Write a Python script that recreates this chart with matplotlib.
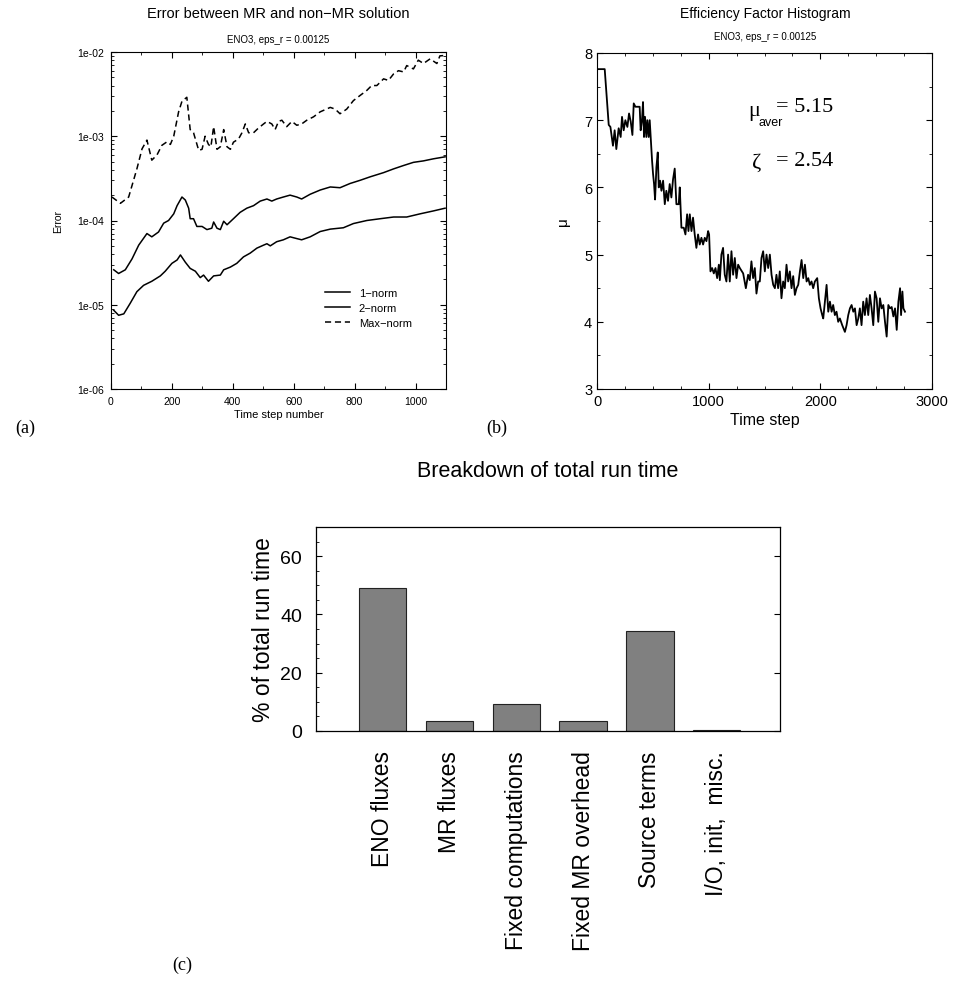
import numpy as np
import matplotlib
matplotlib.use("Agg")
import matplotlib.pyplot as plt
from matplotlib.ticker import MultipleLocator, FuncFormatter, LogLocator

plt.rcParams['font.family'] = ['Liberation Sans', 'DejaVu Sans']

# ---- panel (a): error norms vs time step ----
t_max = [3, 31, 58, 85, 102, 118, 134, 151, 167, 184, 195, 206, 222, 233, 249, 260, 271, 288,
         299, 309, 320, 328, 337, 348, 359, 370, 381, 392, 402, 419, 430, 441, 452, 468, 484,
         501, 512, 528, 539, 550, 561, 577, 594, 610, 626, 643, 665, 687, 720, 736, 752, 774,
         796, 818, 840, 856, 873, 895, 911, 928, 944, 961, 971, 993, 1009, 1026, 1048, 1070,
         1080, 1097]
e_max = [1.9e-4, 1.6e-4, 1.9e-4, 4.1e-4, 7.1e-4, 9.0e-4, 5.2e-4, 6.0e-4, 7.8e-4, 8.6e-4, 8.0e-4,
         1.0e-3, 1.95e-3, 2.6e-3, 2.9e-3, 1.2e-3, 1.1e-3, 6.8e-4, 7.0e-4, 1.0e-3, 8.0e-4, 7.5e-4,
         1.3e-3, 7.0e-4, 7.5e-4, 1.2e-3, 7.5e-4, 7.0e-4, 8.5e-4, 9.3e-4, 1.1e-3, 1.4e-3, 1.1e-3,
         1.1e-3, 1.25e-3, 1.4e-3, 1.5e-3, 1.4e-3, 1.2e-3, 1.5e-3, 1.55e-3, 1.3e-3, 1.5e-3,
         1.35e-3, 1.4e-3, 1.55e-3, 1.7e-3, 1.95e-3, 2.2e-3, 2.1e-3, 1.85e-3, 2.1e-3, 2.65e-3,
         3.05e-3, 3.5e-3, 4.0e-3, 4.0e-3, 4.8e-3, 4.6e-3, 5.5e-3, 6.0e-3, 5.8e-3, 6.9e-3, 6.3e-3,
         8.0e-3, 7.3e-3, 8.3e-3, 7.3e-3, 9.0e-3, 9.1e-3]

t_2 = [9, 25, 47, 69, 91, 118, 134, 156, 173, 189, 206, 217, 233, 244, 255, 260, 271, 282, 299,
       315, 331, 337, 348, 359, 370, 381, 402, 424, 446, 468, 490, 512, 528, 544, 566, 588, 610,
       626, 654, 687, 720, 752, 785, 818, 851, 895, 928, 961, 993, 1026, 1059, 1097]
e_2 = [2.6e-5, 2.35e-5, 2.6e-5, 3.5e-5, 5.1e-5, 7.0e-5, 6.4e-5, 7.3e-5, 9.3e-5, 1.0e-4, 1.2e-4,
       1.5e-4, 1.9e-4, 1.75e-4, 1.4e-4, 1.05e-4, 1.05e-4, 8.5e-5, 8.5e-5, 7.8e-5, 8.1e-5, 9.6e-5,
       8.1e-5, 7.8e-5, 9.8e-5, 8.9e-5, 1.05e-4, 1.25e-4, 1.4e-4, 1.5e-4, 1.7e-4, 1.8e-4, 1.7e-4,
       1.8e-4, 1.9e-4, 2.0e-4, 1.9e-4, 1.8e-4, 2.05e-4, 2.3e-4, 2.5e-4, 2.45e-4, 2.75e-4, 3.0e-4,
       3.3e-4, 3.7e-4, 4.1e-4, 4.5e-4, 4.9e-4, 5.1e-4, 5.4e-4, 5.7e-4]

t_1 = [9, 25, 42, 63, 85, 107, 134, 162, 178, 200, 217, 228, 244, 260, 277, 293, 304, 320, 337,
       359, 370, 392, 413, 435, 457, 479, 501, 512, 523, 544, 566, 588, 610, 626, 654, 687, 720,
       763, 796, 840, 884, 928, 971, 1015, 1059, 1097]
e_1 = [8.6e-6, 7.5e-6, 7.8e-6, 1.04e-5, 1.43e-5, 1.7e-5, 1.9e-5, 2.2e-5, 2.5e-5, 3.1e-5, 3.4e-5,
       3.9e-5, 3.2e-5, 2.7e-5, 2.5e-5, 2.1e-5, 2.25e-5, 1.9e-5, 2.2e-5, 2.25e-5, 2.6e-5, 2.8e-5,
       3.1e-5, 3.7e-5, 4.1e-5, 4.7e-5, 5.1e-5, 5.3e-5, 5.0e-5, 5.6e-5, 5.9e-5, 6.4e-5, 6.1e-5,
       5.9e-5, 6.4e-5, 7.4e-5, 7.9e-5, 8.2e-5, 9.2e-5, 1.0e-4, 1.05e-4, 1.1e-4, 1.1e-4, 1.2e-4,
       1.3e-4, 1.4e-4]

# ---- panel (b): efficiency factor ----
t_mu = [0, 69, 105, 120, 143, 158, 173, 194, 212, 224, 239, 254, 272, 287, 302, 317, 329, 344,
        382, 391, 403, 412, 421, 430, 442, 451, 463, 472, 484, 493, 502, 511, 520, 532, 544, 553,
        565, 577, 592, 607, 621, 636, 651, 666, 681, 696, 711, 732, 741, 756, 777, 792, 807, 819,
        831, 846, 860, 875, 890, 905, 920, 935, 950, 965, 980, 995, 1004, 1016, 1031, 1046, 1061,
        1076, 1091, 1100, 1114, 1129, 1144, 1159, 1174, 1189, 1204, 1219, 1234, 1249, 1264, 1279,
        1309, 1333, 1353, 1368, 1383, 1398, 1413, 1428, 1443, 1458, 1473, 1488, 1503, 1518, 1533,
        1548, 1563, 1578, 1593, 1607, 1622, 1637, 1652, 1667, 1682, 1697, 1712, 1727, 1742, 1757,
        1772, 1787, 1802, 1817, 1832, 1847, 1862, 1877, 1892, 1906, 1921, 1936, 1951, 1972, 1987,
        2002, 2017, 2026, 2041, 2056, 2071, 2086, 2101, 2115, 2130, 2145, 2160, 2175, 2196, 2220,
        2235, 2250, 2265, 2280, 2295, 2310, 2325, 2340, 2354, 2369, 2384, 2399, 2414, 2429, 2444,
        2459, 2474, 2489, 2504, 2519, 2534, 2549, 2564, 2579, 2594, 2609, 2624, 2639, 2654, 2669,
        2684, 2699, 2714, 2723, 2735, 2744, 2758]
mu = [7.76, 7.76, 6.93, 6.9, 6.62, 6.85, 6.57, 6.88, 6.75, 7.05, 6.85, 7.0, 6.9, 7.1, 6.98, 6.78,
      7.25, 7.2, 7.2, 6.85, 7.0, 7.27, 6.75, 7.05, 6.75, 7.0, 6.75, 7.0, 6.65, 6.4, 6.2, 6.05, 5.82,
      6.3, 6.52, 6.0, 6.1, 5.95, 6.1, 5.75, 5.95, 5.8, 6.05, 5.85, 6.12, 6.28, 5.75, 5.75, 6.0, 5.4,
      5.4, 5.3, 5.6, 5.35, 5.6, 5.35, 5.55, 5.3, 5.1, 5.3, 5.15, 5.25, 5.15, 5.25, 5.2, 5.35, 5.3,
      4.75, 4.8, 4.72, 4.8, 4.65, 4.85, 4.62, 5.0, 5.1, 4.7, 4.6, 5.0, 4.6, 5.05, 4.7, 4.95, 4.65,
      4.85, 4.8, 4.72, 4.5, 4.7, 4.62, 4.9, 4.65, 4.8, 4.42, 4.6, 4.6, 4.95, 5.05, 4.75, 5.0, 4.8,
      5.0, 4.7, 4.55, 4.5, 4.7, 4.5, 4.75, 4.35, 4.6, 4.5, 4.85, 4.6, 4.75, 4.5, 4.68, 4.4, 4.5,
      4.55, 4.75, 4.92, 4.65, 4.85, 4.6, 4.65, 4.55, 4.6, 4.5, 4.6, 4.65, 4.35, 4.2, 4.1, 4.05, 4.3,
      4.55, 4.15, 4.3, 4.15, 4.25, 4.1, 4.15, 4.0, 4.05, 3.95, 3.85, 3.95, 4.1, 4.2, 4.25, 4.15,
      4.2, 3.95, 4.05, 4.2, 3.95, 4.3, 4.1, 4.35, 4.1, 4.4, 4.2, 3.95, 4.45, 4.35, 4.0, 4.35, 4.2,
      4.25, 4.0, 3.78, 4.25, 4.2, 4.22, 4.08, 4.2, 3.88, 4.3, 4.5, 4.1, 4.45, 4.2, 4.15]

# ---- panel (c): run time breakdown ----
categories = ['ENO fluxes', 'MR fluxes', 'Fixed computations', 'Fixed MR overhead',
              'Source terms', 'I/O, init,  misc.']
percent = [49.0, 3.5, 9.2, 3.6, 34.3, 0.3]

W, H = 959, 995
fig = plt.figure(figsize=(W / 100, H / 100), dpi=100)


def box(l, t, r, b):
    return [l / W, 1 - b / H, (r - l) / W, (b - t) / H]


def ftext(x, y, s, **kw):
    fig.text(x / W, 1 - y / H, s, **kw)


# (a)
ax1 = fig.add_axes(box(111, 53, 446, 390))
ax1.plot(t_1, e_1, color='black', lw=1.1, label='1\u2212norm')
ax1.plot(t_2, e_2, color='black', lw=1.1, label='2\u2212norm')
ax1.plot(t_max, e_max, color='black', lw=1.1, ls=(0, (4, 2.5)), label='Max\u2212norm')
ax1.set_yscale('log')
ax1.set_xlim(0, 1100)
ax1.set_ylim(1e-6, 1e-2)
ax1.xaxis.set_major_locator(MultipleLocator(200))
ax1.xaxis.set_minor_locator(MultipleLocator(100))
ax1.yaxis.set_major_locator(LogLocator(base=10, numticks=10))
ax1.yaxis.set_major_formatter(FuncFormatter(lambda v, p: f"{v:.0e}"))
ax1.tick_params(which='both', direction='in', top=True, right=True, labelsize=7.5)
ax1.tick_params(which='major', length=4, pad=5)
ax1.tick_params(which='minor', length=2)
ax1.set_xlabel('Time step number', fontsize=8, labelpad=2)
ax1.set_ylabel('Error', fontsize=7.5, labelpad=10)
ax1.legend(loc='upper left', bbox_to_anchor=(0.61, 0.33), frameon=False, fontsize=8,
           handlelength=2.2, labelspacing=0.45)
for s in ax1.spines.values():
    s.set_linewidth(0.8)
ftext(278, 14, 'Error between MR and non\u2212MR solution', ha='center', va='center', fontsize=10.5)
ftext(278, 40, 'ENO3, eps_r = 0.00125', ha='center', va='center', fontsize=7)

# (b)
ax2 = fig.add_axes(box(597, 54, 932, 390))
ax2.plot(t_mu, mu, color='black', lw=1.3)
ax2.set_xlim(0, 3000)
ax2.set_ylim(3, 8)
ax2.xaxis.set_major_locator(MultipleLocator(1000))
ax2.xaxis.set_minor_locator(MultipleLocator(250))
ax2.yaxis.set_major_locator(MultipleLocator(1))
ax2.yaxis.set_minor_locator(MultipleLocator(0.5))
ax2.tick_params(which='both', direction='in', top=True, right=True, labelsize=10.5)
ax2.tick_params(which='major', length=4)
ax2.tick_params(which='minor', length=2)
ax2.set_xlabel('Time step', fontsize=11.5, labelpad=3)
ax2.set_ylabel('\u03bc', fontsize=11, labelpad=10)
for s in ax2.spines.values():
    s.set_linewidth(0.8)
ax2.text(0.45, 0.83, '\u03bc', transform=ax2.transAxes, fontsize=16,
         family='Liberation Serif', va='center')
ax2.text(0.482, 0.795, 'aver', transform=ax2.transAxes, fontsize=9, va='center')
ax2.text(0.535, 0.84, '= 5.15', transform=ax2.transAxes, fontsize=16,
         family='Liberation Serif', va='center')
ax2.text(0.462, 0.675, '\u03b6', transform=ax2.transAxes, fontsize=16,
         family='Liberation Serif', va='center')
ax2.text(0.535, 0.68, '= 2.54', transform=ax2.transAxes, fontsize=16,
         family='Liberation Serif', va='center')
ftext(765, 14, 'Efficiency Factor Histogram', ha='center', va='center', fontsize=10)
ftext(765, 37, 'ENO3, eps_r = 0.00125', ha='center', va='center', fontsize=7)

# (c)
ax3 = fig.add_axes(box(316, 528, 780, 732))
pos = np.arange(1, len(categories) + 1)
ax3.bar(pos, percent, width=0.71, color='#808080', edgecolor='#222222', linewidth=0.8)
ax3.set_xlim(0, 6.95)
ax3.set_ylim(0, 70)
ax3.set_xticks(pos)
ax3.set_xticklabels(categories, rotation=90, fontsize=16.5)
ax3.tick_params(axis='x', length=0, pad=14)
ax3.yaxis.set_major_locator(MultipleLocator(20))
ax3.yaxis.set_minor_locator(MultipleLocator(5))
ax3.tick_params(axis='y', which='both', direction='in', right=True, labelsize=14)
ax3.tick_params(axis='y', which='minor', right=False, length=2)
ax3.tick_params(axis='y', which='major', length=4, pad=10)
ax3.set_ylabel('% of total run time', fontsize=16.5, labelpad=4)
for s in ax3.spines.values():
    s.set_linewidth(0.9)
ftext(548, 472, 'Breakdown of total run time', ha='center', va='center', fontsize=15.5)

# panel letters
ftext(15, 428, '(a)', family='Liberation Serif', fontsize=13, va='center')
ftext(486, 428, '(b)', family='Liberation Serif', fontsize=13, va='center')
ftext(172, 965, '(c)', family='Liberation Serif', fontsize=13, va='center')

fig.savefig('out.png', dpi=100)
